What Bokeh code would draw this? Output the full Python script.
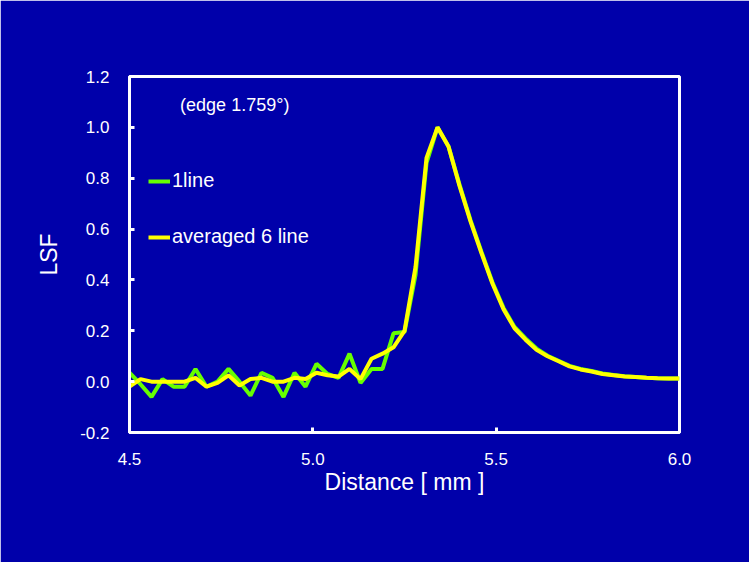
from bokeh.plotting import figure
from bokeh.models import Legend, LegendItem, Label, FixedTicker, NumeralTickFormatter, Range1d
from bokeh.embed import file_html
from bokeh.resources import INLINE

distance = [4.50, 4.53, 4.56, 4.59, 4.62, 4.65, 4.68, 4.71, 4.74, 4.77,
            4.80, 4.83, 4.86, 4.89, 4.92, 4.95, 4.98, 5.01, 5.04, 5.07,
            5.10, 5.13, 5.16, 5.19, 5.22, 5.25, 5.28, 5.31, 5.34, 5.37,
            5.40, 5.43, 5.46, 5.49, 5.52, 5.55, 5.58, 5.61, 5.64, 5.67,
            5.70, 5.73, 5.76, 5.79, 5.82, 5.85, 5.88, 5.91, 5.94, 5.97, 6.00]

lsf_1line = [0.035, -0.01, -0.06, 0.01, -0.02, -0.02, 0.05, -0.02, 0.0, 0.05,
             0.0, -0.055, 0.035, 0.015, -0.06, 0.035, -0.02, 0.07, 0.03, 0.015,
             0.11, -0.005, 0.05, 0.05, 0.19, 0.195, 0.42, 0.86, 1.0, 0.925,
             0.775, 0.635, 0.51, 0.39, 0.29, 0.215, 0.17, 0.13, 0.102, 0.082,
             0.062, 0.05, 0.042, 0.032, 0.026, 0.021, 0.018, 0.015, 0.013, 0.012, 0.012]

lsf_avg6 = [-0.02, 0.01, 0.0, 0.0, 0.0, 0.0, 0.015, -0.02, -0.005, 0.025,
            -0.015, 0.01, 0.015, 0.0, 0.0, 0.015, 0.01, 0.035, 0.025, 0.02,
            0.05, 0.01, 0.09, 0.11, 0.135, 0.2, 0.45, 0.88, 1.0, 0.925,
            0.77, 0.63, 0.505, 0.385, 0.285, 0.21, 0.165, 0.125, 0.1, 0.08,
            0.06, 0.048, 0.04, 0.03, 0.025, 0.02, 0.018, 0.015, 0.013, 0.012, 0.012]

x_ticks = [4.5, 5.0, 5.5, 6.0]
y_ticks = [-0.2, 0.0, 0.2, 0.4, 0.6, 0.8, 1.0, 1.2]

BG = "#0000AA"
FONT = "Liberation Sans"

p = figure(width=749, height=562, output_backend="svg", toolbar_location=None,
           x_range=Range1d(4.5, 6.0), y_range=Range1d(-0.2, 1.2),
           min_border_left=129, min_border_right=70, min_border_top=76, min_border_bottom=130)
p.background_fill_color = BG
p.border_fill_color = BG
p.outline_line_color = "white"
p.outline_line_width = 3
p.grid.visible = False

r1 = p.line(distance, lsf_1line, line_color="#66FF00", line_width=4)
r2 = p.line(distance, lsf_avg6, line_color="#FFFF00", line_width=4)

for ax in (p.xaxis[0], p.yaxis[0]):
    ax.axis_line_color = "white"
    ax.axis_line_width = 3
    ax.major_tick_line_color = "white"
    ax.major_tick_line_width = 3
    ax.major_tick_in = 5
    ax.major_tick_out = 0
    ax.minor_tick_line_color = None
    ax.major_label_text_color = "white"
    ax.major_label_text_font = FONT
    ax.major_label_text_font_size = "17px"
    ax.axis_label_text_color = "white"
    ax.axis_label_text_font = FONT
    ax.axis_label_text_font_size = "23px"
    ax.axis_label_text_font_style = "normal"
    ax.formatter = NumeralTickFormatter(format="0.0")

p.xaxis[0].ticker = FixedTicker(ticks=x_ticks)
p.yaxis[0].ticker = FixedTicker(ticks=y_ticks)
p.xaxis[0].axis_label = "Distance [ mm ]"
p.yaxis[0].axis_label = "LSF"
p.xaxis[0].major_label_standoff = 20
p.xaxis[0].axis_label_standoff = 1
p.yaxis[0].major_label_standoff = 20
p.yaxis[0].axis_label_standoff = 15

legend = Legend(items=[LegendItem(label="1line", renderers=[r1]),
                       LegendItem(label="averaged 6 line", renderers=[r2])],
                location=(19, 184), orientation="vertical")
legend.background_fill_alpha = 0
legend.border_line_color = None
legend.margin = 0
legend.padding = 0
legend.spacing = 33
legend.glyph_width = 22
legend.glyph_height = 20
legend.label_height = 20
legend.label_standoff = 2
legend.label_text_color = "white"
legend.label_text_font = FONT
legend.label_text_font_size = "20px"
p.add_layout(legend, "center")

note = Label(x=4.787, y=1.087, text="(edge 1.759°)", text_color="white",
             text_font=FONT, text_font_size="18px", text_align="center",
             text_baseline="middle")
p.add_layout(note)

open("out.html", "w").write(file_html(p, INLINE))
